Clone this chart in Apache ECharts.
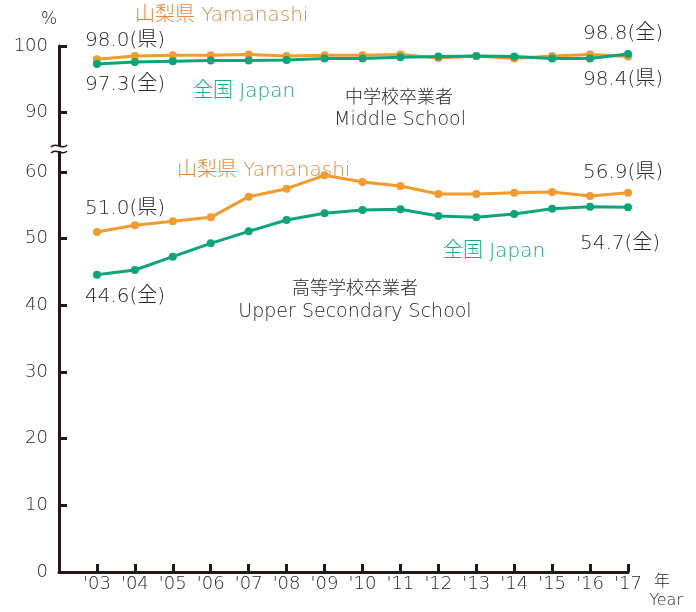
<!DOCTYPE html>
<html>
<head>
<meta charset="utf-8">
<script src="https://cdn.jsdelivr.net/npm/echarts@6/dist/echarts.min.js"></script>
<style>
  html, body { margin: 0; padding: 0; background: #fff; }
  #main { width: 696px; height: 612px; }
</style>
</head>
<body>
<div id="main"></div>
<script>
// ---------- data ----------
const years = [2003, 2004, 2005, 2006, 2007, 2008, 2009, 2010, 2011, 2012, 2013, 2014, 2015, 2016, 2017]
const middleYamanashi = [98.0, 98.5, 98.6, 98.6, 98.7, 98.5, 98.6, 98.6, 98.7, 98.2, 98.5, 98.1, 98.5, 98.7, 98.4]
const middleJapan = [97.3, 97.6, 97.7, 97.8, 97.8, 97.9, 98.1, 98.1, 98.3, 98.4, 98.5, 98.4, 98.1, 98.1, 98.8]
const upperYamanashi = [51.0, 52.0, 52.6, 53.2, 56.3, 57.5, 59.5, 58.5, 57.9, 56.7, 56.7, 56.9, 57.0, 56.4, 56.9]
const upperJapan = [44.6, 45.3, 47.3, 49.3, 51.1, 52.8, 53.8, 54.3, 54.4, 53.4, 53.2, 53.7, 54.5, 54.8, 54.7]
const upperTicks = [90, 100]
const lowerTicks = [0, 10, 20, 30, 40, 50, 60]

const ORANGE = '#f59a2c'
const GREEN = '#0aa678'
const ORANGE_TEXT = '#ec8535'
const GREEN_TEXT = '#14ad82'
const INK = '#231815'
const TEXT = '#262626'
const FONT = "'DejaVu Sans', 'Noto Sans CJK JP', sans-serif"
const WEIGHT = 300

const pairs = (vals) => years.map((y, i) => [y, vals[i]])

// 軸の共通設定
const axisLine = { show: true, lineStyle: { color: INK, width: 3 } }
const axisTick = { show: true, inside: true, length: 8, lineStyle: { color: INK, width: 3 } }
const labelStyle = { color: TEXT, fontSize: 18, fontFamily: FONT, fontWeight: WEIGHT }

function lineSeries (name, vals, color, idx) {
  return {
    name: name,
    type: 'line',
    xAxisIndex: idx,
    yAxisIndex: idx,
    data: pairs(vals),
    symbol: 'circle',
    symbolSize: 8,
    lineStyle: { color: color, width: 3 },
    itemStyle: { color: color },
    animation: false
  }
}

function txt (text, x, y, color, size, align) {
  return {
    type: 'text',
    x: x,
    y: y,
    style: {
      text: text,
      fill: color,
      font: WEIGHT + ' ' + size + 'px ' + FONT,
      align: align || 'left',
      verticalAlign: 'middle'
    }
  }
}

const chart = echarts.init(document.getElementById('main'))

const option = {
  backgroundColor: '#fff',
  animation: false,
  grid: [
    { left: 59, right: 68, top: 46, height: 104 },
    { left: 59, right: 68, top: 152, bottom: 40 }
  ],
  xAxis: [
    { gridIndex: 0, type: 'value', min: 2002, max: 2017, show: false },
    {
      gridIndex: 1,
      type: 'value',
      min: 2002,
      max: 2017,
      interval: 1,
      axisLine: axisLine,
      axisTick: Object.assign({}, axisTick, { customValues: years }),
      splitLine: { show: false },
      axisLabel: Object.assign({}, labelStyle, {
        margin: 3,
        customValues: years,
        formatter: v => "'" + String(v).slice(2)
      })
    }
  ],
  yAxis: [
    {
      gridIndex: 0,
      type: 'value',
      min: 84.3,
      max: 100,
      axisLine: axisLine,
      axisTick: Object.assign({}, axisTick, { customValues: upperTicks }),
      splitLine: { show: false },
      axisLabel: Object.assign({}, labelStyle, { margin: 11, customValues: upperTicks })
    },
    {
      gridIndex: 1,
      type: 'value',
      min: 0,
      max: 63,
      axisLine: axisLine,
      axisTick: Object.assign({}, axisTick, { customValues: lowerTicks }),
      splitLine: { show: false },
      axisLabel: Object.assign({}, labelStyle, { margin: 11, customValues: lowerTicks })
    }
  ],
  series: [
    lineSeries('山梨県 中学', middleYamanashi, ORANGE, 0),
    lineSeries('全国 中学', middleJapan, GREEN, 0),
    lineSeries('山梨県 高校', upperYamanashi, ORANGE, 1),
    lineSeries('全国 高校', upperJapan, GREEN, 1)
  ],
  graphic: [
    // 波線（軸の省略記号）
    { type: 'rect', shape: { x: 54, y: 146, width: 10, height: 5 }, style: { fill: '#fff' }, z: 100 },
    { type: 'bezierCurve', shape: { x1: 51, y1: 147, cpx1: 56, cpy1: 141, cpx2: 62, cpy2: 151, x2: 67, y2: 145 }, style: { stroke: INK, lineWidth: 1.5, fill: null }, z: 101 },
    { type: 'bezierCurve', shape: { x1: 51, y1: 153, cpx1: 56, cpy1: 147, cpx2: 62, cpy2: 157, x2: 67, y2: 151 }, style: { stroke: INK, lineWidth: 1.5, fill: null }, z: 101 },

    txt('%', 49, 20, TEXT, 17, 'center'),
    txt('山梨県 Yamanashi', 135, 16, ORANGE_TEXT, 20),
    txt('98.0(県)', 85, 41, TEXT, 20),
    txt('97.3(全)', 85, 85, TEXT, 20),
    txt('全国 Japan', 193, 92, GREEN_TEXT, 20),
    txt('中学校卒業者', 399, 98, TEXT, 18, 'center'),
    txt('Middle School', 400, 120, TEXT, 19, 'center'),
    txt('98.8(全)', 583, 34, TEXT, 20),
    txt('98.4(県)', 583, 80, TEXT, 20),

    txt('山梨県 Yamanashi', 177, 171, ORANGE_TEXT, 20),
    txt('51.0(県)', 85, 209, TEXT, 20),
    txt('56.9(県)', 583, 173, TEXT, 20),
    txt('全国 Japan', 443, 252, GREEN_TEXT, 20),
    txt('54.7(全)', 580, 244, TEXT, 20),
    txt('44.6(全)', 85, 297, TEXT, 20),
    txt('高等学校卒業者', 355, 289, TEXT, 18, 'center'),
    txt('Upper Secondary School', 355, 312, TEXT, 19, 'center'),

    txt('年', 662, 582, TEXT, 16, 'center'),
    txt('Year', 683, 601, TEXT, 16, 'right')
  ]
}

chart.setOption(option)
</script>
</body>
</html>
